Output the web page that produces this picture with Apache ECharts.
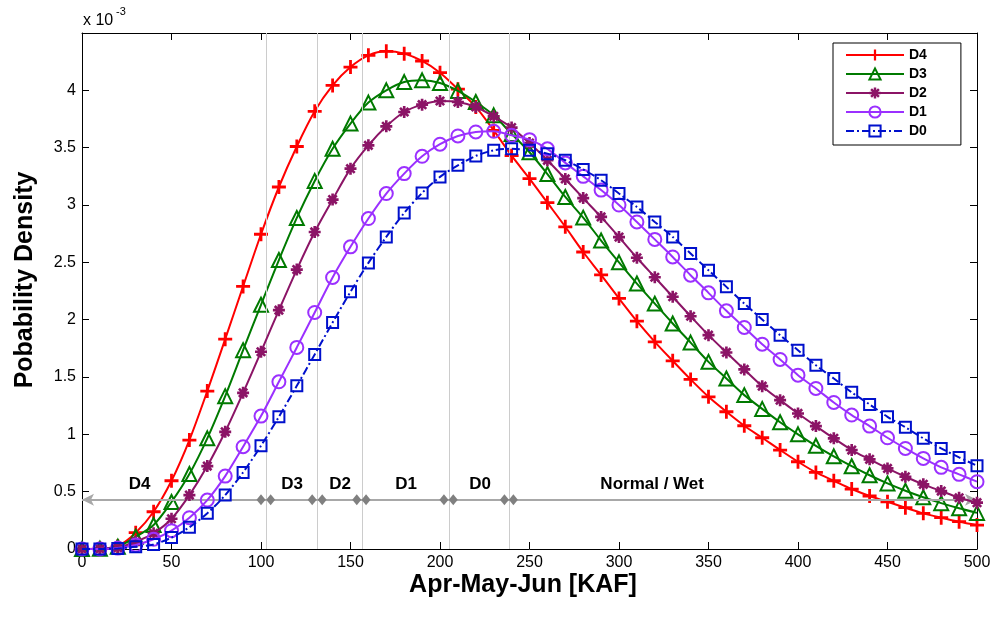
<!DOCTYPE html>
<html><head><meta charset="utf-8">
<script src="https://cdn.jsdelivr.net/npm/echarts@6/dist/echarts.min.js"></script>
<style>html,body{margin:0;padding:0;background:#fff}#c{width:995px;height:617px}</style>
</head><body><div id="c"></div><script>
const xKaf = [0,10,20,30,40,50,60,70,80,90,100,110,120,130,140,150,160,170,180,190,200,210,220,230,240,250,260,270,280,290,300,310,320,330,340,350,360,370,380,390,400,410,420,430,440,450,460,470,480,490,500];
const seriesNames = ['D4','D3','D2','D1','D0'];
// values in units of 1e-3
const d4 = [0,0.004,0.025,0.142,0.325,0.595,0.95,1.377,1.83,2.29,2.745,3.157,3.51,3.817,4.043,4.203,4.305,4.34,4.32,4.256,4.154,4.01,3.855,3.65,3.43,3.23,3.02,2.81,2.59,2.39,2.185,1.987,1.807,1.641,1.479,1.327,1.197,1.075,0.97,0.863,0.761,0.668,0.595,0.523,0.462,0.412,0.36,0.311,0.273,0.238,0.209];
const d3 = [0,0.002,0.02,0.107,0.209,0.41,0.654,0.965,1.333,1.734,2.13,2.52,2.887,3.21,3.49,3.71,3.893,4.0,4.072,4.087,4.064,3.995,3.898,3.782,3.62,3.46,3.27,3.07,2.89,2.69,2.5,2.315,2.14,1.967,1.8,1.632,1.487,1.342,1.222,1.105,1.0,0.9,0.808,0.722,0.643,0.572,0.508,0.451,0.4,0.355,0.315];
const d2 = [0,0.001,0.01,0.064,0.137,0.264,0.47,0.723,1.022,1.362,1.72,2.083,2.437,2.765,3.047,3.317,3.52,3.686,3.811,3.875,3.907,3.898,3.855,3.773,3.675,3.54,3.39,3.227,3.06,2.896,2.72,2.54,2.37,2.2,2.03,1.865,1.714,1.566,1.42,1.298,1.182,1.072,0.965,0.863,0.782,0.703,0.63,0.564,0.505,0.447,0.404];
const d1 = [0,0.001,0.008,0.035,0.085,0.16,0.273,0.427,0.636,0.892,1.159,1.458,1.758,2.063,2.368,2.635,2.882,3.1,3.274,3.425,3.53,3.602,3.637,3.643,3.608,3.57,3.49,3.367,3.25,3.13,3.0,2.852,2.7,2.547,2.388,2.234,2.077,1.932,1.786,1.653,1.516,1.4,1.278,1.168,1.072,0.97,0.877,0.79,0.712,0.651,0.587];
const d0 = [0,0,0.005,0.02,0.04,0.1,0.19,0.311,0.47,0.668,0.9,1.153,1.423,1.697,1.975,2.243,2.495,2.722,2.931,3.105,3.245,3.346,3.428,3.477,3.49,3.477,3.448,3.39,3.31,3.216,3.1,2.983,2.852,2.722,2.577,2.431,2.286,2.141,2.002,1.865,1.734,1.603,1.487,1.366,1.261,1.153,1.061,0.965,0.877,0.799,0.726];
const classBounds = [103.2,131.7,156.6,205.2,238.7];
const classDiamondX = [100,105.4,128.6,134.2,153.5,158.7,202.2,207.4,236,241];
const classLabels = ['D4','D3','D2','D1','D0','Normal / Wet'];
const classLabelX = [32.4,117.7,144.5,181.4,222.7,318.8];
const classLineY = 0.43;
const classLabelY = 0.56;

const FONT = "'Liberation Sans', Arial, Helvetica, sans-serif";
const colors = ['#ff0000','#007a00','#8b1466','#9b30ff','#0010cc'];
const plusPath = 'path://M4,0h2v10h-2zM0,4h10v2h-10z';
const starPath = 'path://M3.9,0h2.2v10h-2.2zM0,3.9h10v2.2h-10zM2.3,0.75L9.25,7.7L7.7,9.25L0.75,2.3zM7.7,0.75L9.25,2.3L2.3,9.25L0.75,7.7z';
const symbols = [plusPath,'triangle',starPath,'circle','rect'];
const symSizes = [14,14,12,13,11];
const filled = [true,false,true,false,false];
const dataSets = [d4,d3,d2,d1,d0];

const chart = echarts.init(document.getElementById('c'), null, {renderer:'canvas'});

const curveSeries = seriesNames.map((n,k)=>({
  name:n, type:'line', xAxisIndex:0, yAxisIndex:0,
  data: xKaf.map((x,i)=>[x,dataSets[k][i]]),
  smooth:0.3, showSymbol:true, showAllSymbol:true,
  symbol:symbols[k], symbolSize:symSizes[k],
  lineStyle:{color:colors[k], width:2, type: k===4 ? [8,3,2,3] : 'solid'},
  itemStyle: filled[k] ? {color:colors[k], borderWidth:0} : {color:'rgba(255,255,255,0)', borderColor:colors[k], borderWidth:2},
  color: colors[k],
  z: 3+k, animation:false, silent:true
}));

const axisCommon = {
  axisLine:{show:true, onZero:false, lineStyle:{color:'#000', width:1}},
  axisTick:{show:true, inside:true, length:7, lineStyle:{color:'#000', width:1}},
  splitLine:{show:false}
};

const option = {
  animation:false,
  backgroundColor:'#fff',
  grid:{left:82, right:18, top:33, bottom:68, containLabel:false},
  xAxis:[
    Object.assign({type:'value', min:0, max:500, interval:50, position:'bottom',
      axisLabel:{fontSize:16, color:'#000', margin:6, fontFamily:FONT}}, axisCommon),
    Object.assign({type:'value', min:0, max:500, interval:50, position:'top',
      axisLabel:{show:false}}, axisCommon)
  ],
  yAxis:[
    Object.assign({type:'value', min:0, max:4.5, interval:0.5, position:'left',
      axisLabel:{fontSize:16, color:'#000', margin:6, fontFamily:FONT,
        formatter:(v)=> v>=4.5 ? '' : String(v)}}, axisCommon),
    Object.assign({type:'value', min:0, max:4.5, interval:0.5, position:'right',
      axisLabel:{show:false}}, axisCommon)
  ],
  legend:{
    data: seriesNames, orient:'vertical', left:833, top:43,
    padding:[5,34,7,12], itemWidth:58, itemHeight:14, itemGap:5,
    borderColor:'#000', borderWidth:1, backgroundColor:'#fff',
    textStyle:{fontSize:14, fontWeight:'bold', color:'#000', fontFamily:FONT},
    selectedMode:false
  },
  series:[
    {name:'bounds', type:'line', data:[], z:1, silent:true,
      markLine:{silent:true, symbol:['none','none'], animation:false,
        label:{show:false}, lineStyle:{color:'#cccccc', type:'solid', width:1},
        data: classBounds.map(b=>({xAxis:b}))}},
    ...curveSeries,
    {name:'classline', type:'line', data:[], z:10, silent:true,
      markLine:{silent:true, symbol:['arrow','arrow'], symbolSize:[9,12], animation:false,
        label:{show:false}, lineStyle:{color:'#a8a8a8', type:'solid', width:2},
        data:[[{coord:[0,classLineY]},{coord:[500,classLineY]}]]}},
    {name:'diamonds', type:'scatter', z:11, silent:true, symbol:'diamond', symbolSize:[9,11],
      itemStyle:{color:'#808080', opacity:1},
      data: classDiamondX.map(x=>[x,classLineY])},
    {name:'classlabels', type:'scatter', z:12, silent:true, symbolSize:1,
      itemStyle:{color:'rgba(0,0,0,0)', opacity:1},
      label:{show:true, position:[0,0], align:'center', verticalAlign:'middle', formatter:'{b}', fontSize:17, fontWeight:'bold', color:'#000', opacity:1, textBorderWidth:0, fontFamily:FONT},
      data: classLabels.map((t,i)=>({name:t, value:[classLabelX[i], classLabelY]}))}
  ],
  graphic:[
    {type:'text', left:83, top:13, style:{text:'x 10', fontSize:16, fontFamily:FONT, fill:'#000'}},
    {type:'text', left:116, top:6, style:{text:'-3', fontSize:11, fontFamily:FONT, fill:'#000'}},
    {type:'text', x:25, y:280, rotation:Math.PI/2, style:{text:'Pobability Density', fontSize:25, fontWeight:'bold', fontFamily:FONT, fill:'#000', align:'center', verticalAlign:'middle'}},
    {type:'text', x:523, y:585, style:{text:'Apr-May-Jun [KAF]', fontSize:25, fontWeight:'bold', fontFamily:FONT, fill:'#000', align:'center', verticalAlign:'middle'}}
  ]
};
chart.setOption(option);
</script></body></html>
